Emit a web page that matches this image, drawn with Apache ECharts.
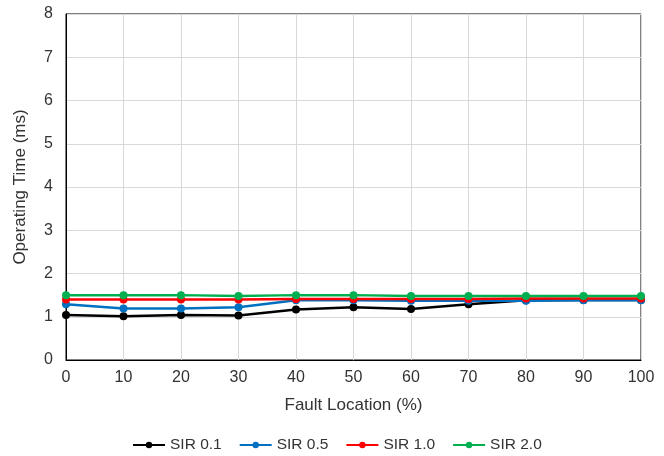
<!DOCTYPE html>
<html>
<head>
<meta charset="utf-8">
<script src="https://cdn.jsdelivr.net/npm/echarts@6/dist/echarts.min.js"></script>
<style>
html,body{margin:0;padding:0;background:#fff;}
#chart{width:664px;height:456px;}
</style>
</head>
<body>
<div id="chart"></div>
<script>
// Fault location along the line (%)
const faultLocation = [0, 10, 20, 30, 40, 50, 60, 70, 80, 90, 100];
// Operating time (ms) for each source impedance ratio
const sir01 = [1.04, 1.01, 1.04, 1.03, 1.17, 1.22, 1.18, 1.29, 1.38, 1.39, 1.39];
const sir05 = [1.29, 1.19, 1.19, 1.22, 1.38, 1.38, 1.37, 1.37, 1.37, 1.38, 1.38];
const sir10 = [1.40, 1.40, 1.40, 1.40, 1.41, 1.41, 1.41, 1.41, 1.42, 1.42, 1.42];
const sir20 = [1.50, 1.50, 1.50, 1.48, 1.50, 1.50, 1.48, 1.48, 1.48, 1.48, 1.48];
const seriesNames = ['SIR 0.1', 'SIR 0.5', 'SIR 1.0', 'SIR 2.0'];
const seriesColors = ['#000000', '#0070C0', '#FF0000', '#00B050'];
const seriesValues = [sir01, sir05, sir10, sir20];

const font = 'Liberation Sans, Arial, sans-serif';
const textColor = '#333';
const chart = echarts.init(document.getElementById('chart'), null, {renderer: 'canvas'});

const series = seriesValues.map((vals, i) => ({
  name: seriesNames[i],
  type: 'line',
  data: faultLocation.map((x, j) => [x, vals[j]]),
  symbol: 'circle',
  symbolSize: 8,
  lineStyle: {width: 2.5, color: seriesColors[i]},
  itemStyle: {color: seriesColors[i]},
  z: 2 + i,
  animation: false
}));

chart.setOption({
  animation: false,
  textStyle: {fontFamily: font},
  grid: {
    left: 66, right: 23, top: 14, bottom: 96,
    show: true, borderColor: '#000', borderWidth: 1
  },
  legend: {
    top: 432,
    left: 127,
    itemWidth: 32,
    itemHeight: 8,
    itemGap: 17,
    textStyle: {fontFamily: font, fontSize: 15.5, color: textColor},
    data: seriesNames
  },
  xAxis: {
    type: 'value',
    min: 0, max: 100, interval: 10,
    name: 'Fault Location (%)',
    nameLocation: 'middle',
    nameGap: 37,
    nameTextStyle: {fontFamily: font, fontSize: 17, color: textColor},
    axisLine: {show: true, lineStyle: {color: '#000', width: 1}},
    axisTick: {show: false},
    axisLabel: {fontFamily: font, fontSize: 16, color: textColor, margin: 10},
    splitLine: {show: true, lineStyle: {color: '#d9d9d9', width: 1}}
  },
  yAxis: {
    type: 'value',
    min: 0, max: 8, interval: 1,
    name: 'Operating Time (ms)',
    nameLocation: 'middle',
    nameGap: 37,
    nameTextStyle: {fontFamily: font, fontSize: 17, color: textColor},
    axisLine: {show: true, lineStyle: {color: '#000', width: 1}},
    axisTick: {show: false},
    axisLabel: {fontFamily: font, fontSize: 16, color: textColor, margin: 13},
    splitLine: {show: true, lineStyle: {color: '#d9d9d9', width: 1}}
  },
  series: series
});
</script>
</body>
</html>
